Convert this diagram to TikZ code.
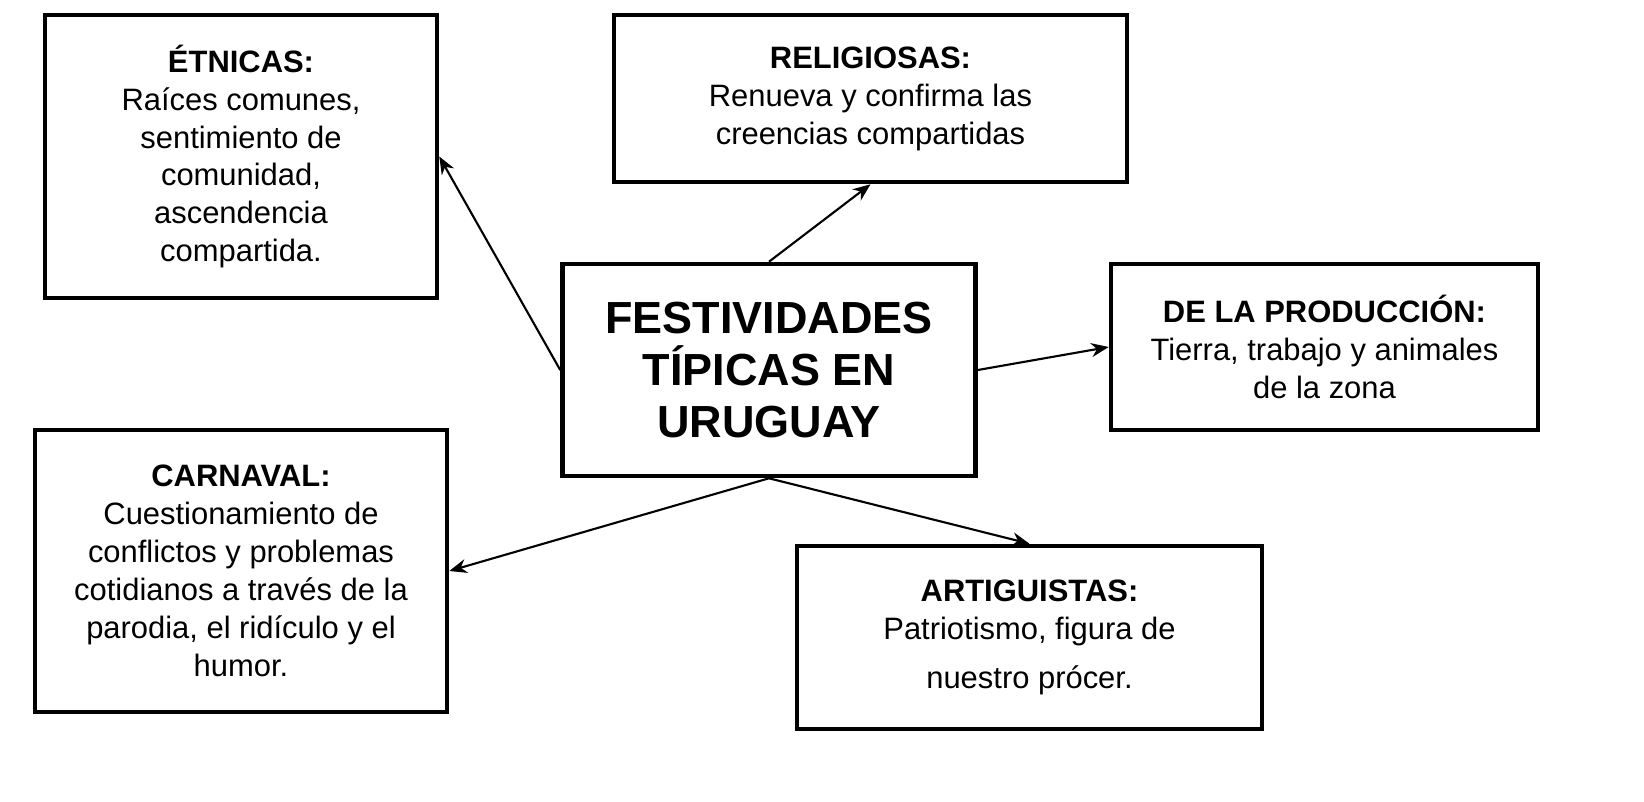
\documentclass[tikz,border=0pt]{standalone}
\usepackage{fontspec}
\setmainfont{Liberation Sans}
\usetikzlibrary{arrows.meta,positioning}

\begin{document}
\begin{tikzpicture}[
  box/.style={rectangle, draw, line width=1.3pt, align=center, font=\fontsize{8.8pt}{10.8pt}\selectfont, inner sep=2pt},
  arr/.style={-{Stealth[length=5pt,width=4pt]}, semithick},
  every node/.style={inner sep=4pt}
]
\useasboundingbox (0,0) rectangle (16.44,-8.02);

% Central topic
\node[box, minimum width=4.13cm, minimum height=2.12cm, font=\bfseries\fontsize{12.8pt}{14.9pt}\selectfont] (fest) at (7.69,-3.70) {FESTIVIDADES\\TÍPICAS EN\\URUGUAY};

% Surrounding boxes
\node[box, minimum width=3.92cm, minimum height=2.83cm] (etn) at (2.41,-1.565) {\textbf{ÉTNICAS:}\\Raíces comunes,\\sentimiento de\\comunidad,\\ascendencia\\compartida.};
\node[box, minimum width=5.13cm, minimum height=1.67cm] (rel) at (8.705,-0.985) {\textbf{RELIGIOSAS:}\\Renueva y confirma las\\creencias compartidas};
\node[box, minimum width=4.27cm, minimum height=1.66cm] (prod) at (13.245,-3.47) {\textbf{DE LA PRODUCCIÓN:}\\Tierra, trabajo y animales\\de la zona};
\node[box, minimum width=4.12cm, minimum height=2.82cm] (carn) at (2.41,-5.71) {\textbf{CARNAVAL:}\\Cuestionamiento de\\conflictos y problemas\\cotidianos a través de la\\parodia, el ridículo y el\\humor.};
\node[box, minimum width=4.65cm, minimum height=1.83cm] (art) at (10.295,-6.375) {\textbf{ARTIGUISTAS:}\\Patriotismo, figura de\\[3pt]nuestro prócer.};

% Connectors
\draw[arr] (fest.west) -- (etn.east);
\draw[arr] (fest.north) -- (rel.south);
\draw[arr] (fest.east) -- (prod.west);
\draw[arr] (fest.south) -- (carn.east);
\draw[arr] (fest.south) -- (art.north);

\end{tikzpicture}
\end{document}
